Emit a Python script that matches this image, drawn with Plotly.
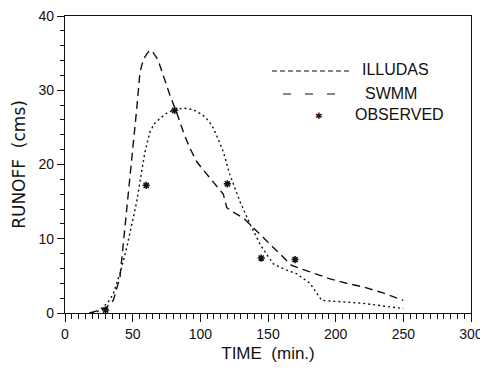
import plotly.graph_objects as go

# ILLUDAS simulated hydrograph
illudas_t = [18, 22, 26, 30.8, 35.7, 40.6, 43.1, 45.5, 48, 50.5, 53, 55.4, 58, 60.5, 62.8, 65, 67.7, 70, 72.6, 77.6, 82.5, 87.4, 92, 97.3, 102, 107.2, 112, 117, 119.5, 124, 131.8, 139, 149, 158.9, 167.5, 173.7, 185, 195.9, 208, 220.5, 235, 250]
illudas_q = [0, 0.2, 0.4, 0.8, 1.7, 4.8, 9.3, 13.2, 17.8, 23, 27.5, 32.4, 34.2, 34.9, 35.4, 35.1, 34.4, 33.4, 32.0, 29.3, 27.0, 24.4, 22.3, 20.4, 19.3, 18.2, 17.2, 16.0, 14.2, 13.6, 12.8, 11.5, 9.7, 8.0, 6.4, 6.0, 5.3, 4.6, 4.0, 3.5, 2.7, 1.7]

# SWMM simulated hydrograph
swmm_t = [20, 24, 28.3, 32, 35.7, 40.6, 45.6, 49.3, 53, 56.6, 59.1, 62.8, 66, 70.2, 75, 80, 87.4, 94.8, 102.2, 106, 109.6, 113, 117, 121.9, 125.5, 129.3, 136.7, 144, 149, 154, 162, 171, 181, 189.7, 205, 220.5, 235, 250]
swmm_q = [0, 0.2, 0.8, 1.5, 2.6, 5.3, 8.8, 12, 15, 19, 21.7, 24.4, 25.5, 26.2, 26.9, 27.3, 27.6, 27.4, 26.6, 25.9, 24.9, 23.5, 21.7, 18.6, 16.8, 15, 12, 9.3, 7.9, 6.6, 5.9, 5.3, 4.0, 1.7, 1.5, 1.3, 0.95, 0.6]

# Observed runoff
obs_t = [30, 60, 81, 120, 145, 170]
obs_q = [0.4, 17.2, 27.3, 17.4, 7.4, 7.2]

legend_labels = ["ILLUDAS", "SWMM", "OBSERVED"]

x_ticks = [0, 50, 100, 150, 200, 250, 300]
y_ticks = [0, 10, 20, 30, 40]

narrow = "Liberation Sans Narrow, Arial Narrow, Liberation Sans, Arial, sans-serif"
tick_font = dict(family=narrow, size=14, color="#111")

# The page body has an 8px margin, so the figure is sized/offset to compensate
PAGE_OFF = 8
L, R, T, B = 65 - PAGE_OFF, 17, 16 - PAGE_OFF, 62
W, H = 488 - PAGE_OFF, 375 - PAGE_OFF
PW, PH = W - L - R, H - T - B

fig = go.Figure()
fig.add_trace(go.Scatter(x=illudas_t, y=illudas_q, mode="lines",
                         line=dict(color="#111", width=1.4, dash="8px,5px"),
                         name=legend_labels[0], showlegend=False))
fig.add_trace(go.Scatter(x=swmm_t, y=swmm_q, mode="lines",
                         line=dict(color="#111", width=1.4, dash="2px,3px"),
                         name=legend_labels[1], showlegend=False))
fig.add_trace(go.Scatter(x=obs_t, y=obs_q, mode="markers",
                         marker=dict(symbol="asterisk", size=6, color="#111",
                                     line=dict(color="#111", width=1.6)),
                         name=legend_labels[2], showlegend=False))

# Manual legend (paper coordinates derived from screen pixel positions)
def px_x(p):
    return (p - 65) / PW

def px_y(p):
    return (313 - p) / PH

fig.add_shape(type="line", xref="paper", yref="paper",
              x0=px_x(272), x1=px_x(350), y0=px_y(71), y1=px_y(71),
              line=dict(color="#111", width=1.2, dash="5px,3px"))
fig.add_shape(type="line", xref="paper", yref="paper",
              x0=px_x(283), x1=px_x(344), y0=px_y(94), y1=px_y(94),
              line=dict(color="#111", width=1.2, dash="8px,14px"))
fig.add_annotation(xref="paper", yref="paper", x=px_x(319), y=px_y(115),
                   text="✱", showarrow=False, font=dict(size=9, color="#111"))
for lbl, xc, yc in zip(legend_labels, [395, 391, 399], [70, 93, 114]):
    fig.add_annotation(xref="paper", yref="paper", x=px_x(xc), y=px_y(yc),
                       text=lbl, showarrow=False, xanchor="center", yanchor="middle",
                       font=dict(family=narrow, size=16, color="#111"))

fig.update_xaxes(range=[0, 300], tickvals=x_ticks, ticktext=[str(v) for v in x_ticks],
                 ticks="outside", ticklen=8, tickwidth=1.3, tickcolor="#111",
                 minor=dict(dtick=5, ticklen=5, tickwidth=1, tickcolor="#111", ticks="outside"),
                 showline=True, linecolor="#111", linewidth=1.4, mirror=True,
                 showgrid=False, zeroline=False, tickfont=tick_font, automargin=False,
                 ticklabeloverflow="allow",
                 title=dict(text="TIME  (min.)", font=dict(family=narrow, size=17, color="#111"), standoff=6))
fig.update_yaxes(range=[0, 40], tickvals=y_ticks, ticktext=[str(v) for v in y_ticks],
                 ticks="outside", ticklen=7, tickwidth=1.2, tickcolor="#111",
                 minor=dict(dtick=2, ticklen=4, tickwidth=1, tickcolor="#111", ticks="outside"),
                 showline=True, linecolor="#111", linewidth=1.4, mirror=True,
                 showgrid=False, zeroline=False, tickfont=tick_font, automargin=False,
                 ticklabeloverflow="allow",
                 title=dict(text="RUNOFF  (cms)", font=dict(family="DejaVu Sans, sans-serif", size=17, color="#111"), standoff=8))

fig.update_layout(width=W, height=H, margin=dict(l=L, r=R, t=T, b=B),
                  paper_bgcolor="white", plot_bgcolor="white", showlegend=False)

fig.write_html("out.html")
